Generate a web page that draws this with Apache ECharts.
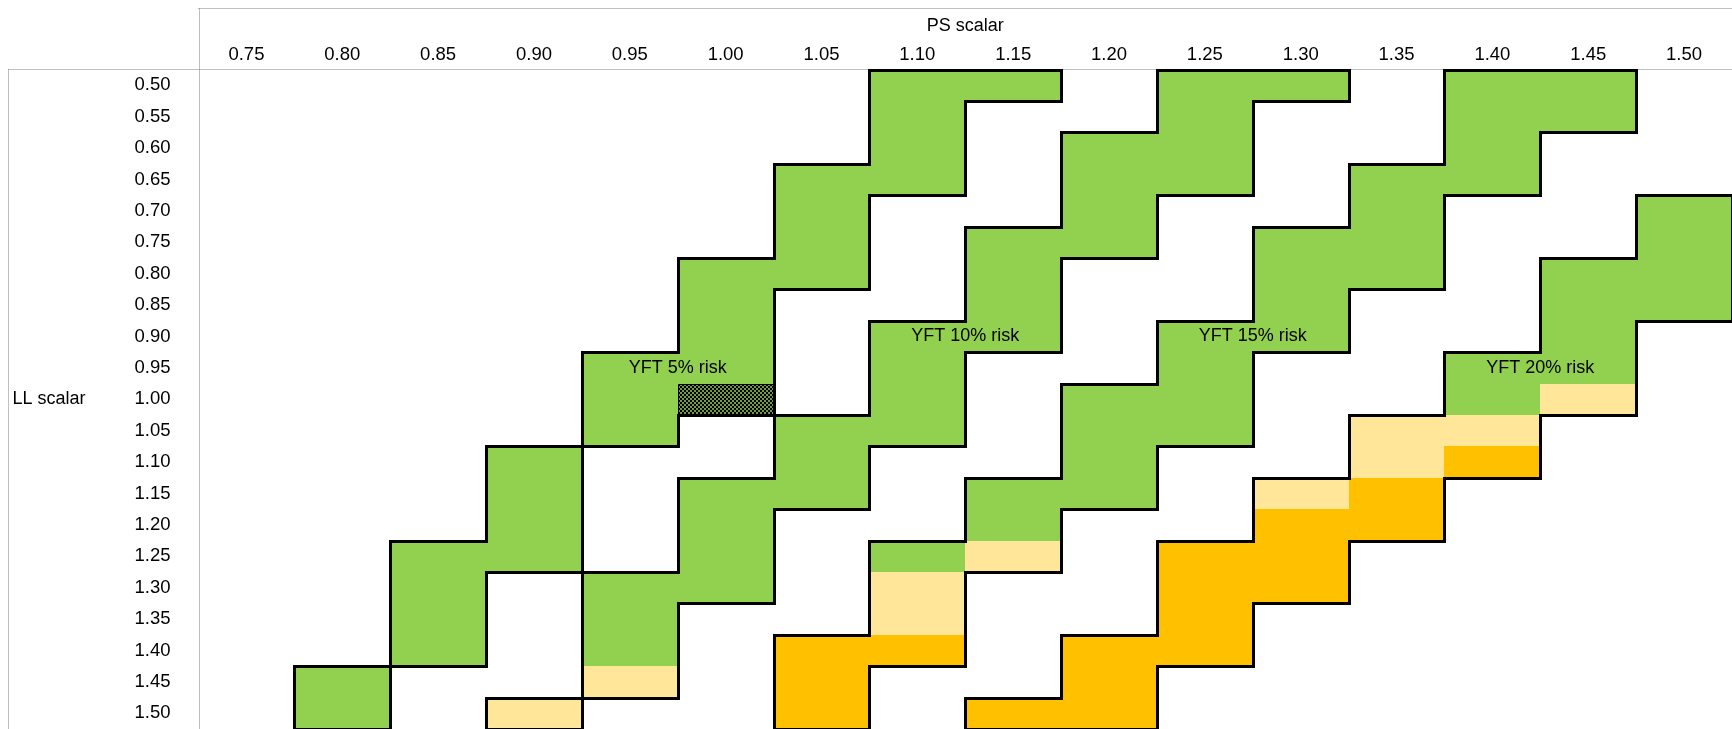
<!DOCTYPE html>
<html><head><meta charset="utf-8">
<script src="https://cdn.jsdelivr.net/npm/echarts@6/dist/echarts.min.js"></script>
<style>html,body{margin:0;padding:0;background:#fff}#c{width:1732px;height:729px}</style>
</head><body><div id="c"></div><script>
// ---- Data ----
const psScalar = ['0.75','0.80','0.85','0.90','0.95','1.00','1.05','1.10','1.15','1.20','1.25','1.30','1.35','1.40','1.45','1.50'];
const llScalar = ['0.50','0.55','0.60','0.65','0.70','0.75','0.80','0.85','0.90','0.95','1.00','1.05','1.10','1.15','1.20','1.25','1.30','1.35','1.40','1.45','1.50'];

// PS scalar range [from, to] covered by each risk band, one entry per LL scalar row
const risk5 = [['1.10','1.15'],['1.10','1.10'],['1.10','1.10'],['1.05','1.10'],['1.05','1.05'],['1.05','1.05'],['1.00','1.05'],['1.00','1.00'],['1.00','1.00'],['0.95','1.00'],['0.95','1.00'],['0.95','0.95'],['0.90','0.90'],['0.90','0.90'],['0.90','0.90'],['0.85','0.90'],['0.85','0.85'],['0.85','0.85'],['0.85','0.85'],['0.80','0.80'],['0.80','0.80']];
const risk10 = [['1.25','1.30'],['1.25','1.25'],['1.20','1.25'],['1.20','1.25'],['1.20','1.20'],['1.15','1.20'],['1.15','1.15'],['1.15','1.15'],['1.10','1.15'],['1.10','1.10'],['1.10','1.10'],['1.05','1.10'],['1.05','1.05'],['1.00','1.05'],['1.00','1.00'],['1.00','1.00'],['0.95','1.00'],['0.95','0.95'],['0.95','0.95'],['0.95','0.95'],['0.90','0.90']];
const risk15 = [['1.40','1.45'],['1.40','1.45'],['1.40','1.40'],['1.35','1.40'],['1.35','1.35'],['1.30','1.35'],['1.30','1.35'],['1.30','1.30'],['1.25','1.30'],['1.25','1.25'],['1.20','1.25'],['1.20','1.25'],['1.20','1.20'],['1.15','1.20'],['1.15','1.15'],['1.10','1.15'],['1.10','1.10'],['1.10','1.10'],['1.05','1.10'],['1.05','1.05'],['1.05','1.05']];
const risk20 = [null,null,null,null,['1.50','1.50'],['1.50','1.50'],['1.45','1.50'],['1.45','1.50'],['1.45','1.45'],['1.40','1.45'],['1.40','1.45'],['1.35','1.40'],['1.35','1.40'],['1.30','1.35'],['1.30','1.35'],['1.25','1.30'],['1.25','1.30'],['1.25','1.25'],['1.20','1.25'],['1.20','1.20'],['1.15','1.20']];

// cells [PS, LL] that are not green
const lightYellowCells = [['0.95','1.45'],['0.90','1.50'],['1.15','1.25'],['1.10','1.30'],['1.10','1.35'],['1.45','1.00'],['1.35','1.05'],['1.40','1.05'],['1.35','1.10'],['1.30','1.15']];
const orangeCells = [['1.05','1.40'],['1.10','1.40'],['1.05','1.45'],['1.05','1.50'],['1.40','1.10'],['1.35','1.15'],['1.30','1.20'],['1.35','1.20'],['1.25','1.25'],['1.30','1.25'],['1.25','1.30'],['1.30','1.30'],['1.25','1.35'],['1.20','1.40'],['1.25','1.40'],['1.20','1.45'],['1.15','1.50'],['1.20','1.50']];
const hatchedCells = [['1.00','1.00']];

// labels: [text, PS from, PS to, LL row]
const riskLabels = [['YFT 5% risk','0.95','1.00','0.95'],['YFT 10% risk','1.10','1.15','0.90'],['YFT 15% risk','1.25','1.30','0.90'],['YFT 20% risk','1.40','1.45','0.95']];

// ---- Build ----
const GREEN = '#92D050', LY = '#FFE699', ORANGE = '#FFC000';
const FONT = "'Liberation Sans', Arial, sans-serif";
const bands = [risk5, risk10, risk15, risk20];
const key = (b, c, r) => b + '_' + c + '_' + r;
const member = new Set();
const cellData = [];
const colorOf = {};
lightYellowCells.forEach(p => colorOf[psScalar.indexOf(p[0]) + '_' + llScalar.indexOf(p[1])] = 'ly');
orangeCells.forEach(p => colorOf[psScalar.indexOf(p[0]) + '_' + llScalar.indexOf(p[1])] = 'or');
hatchedCells.forEach(p => colorOf[psScalar.indexOf(p[0]) + '_' + llScalar.indexOf(p[1])] = 'ha');
bands.forEach((band, b) => {
  band.forEach((rng, r) => {
    if (!rng) return;
    const a = psScalar.indexOf(rng[0]), z = psScalar.indexOf(rng[1]);
    for (let c = a; c <= z; c++) {
      member.add(key(b, c, r));
      cellData.push([c, r, b]);
    }
  });
});
const labelData = riskLabels.map(l => [psScalar.indexOf(l[1]), llScalar.indexOf(l[3]), psScalar.indexOf(l[2])]);

// hatch pattern
const pc = document.createElement('canvas');
pc.width = 4; pc.height = 4;
const pctx = pc.getContext('2d');
pctx.fillStyle = '#000'; pctx.fillRect(0, 0, 4, 4);
pctx.fillStyle = '#6f9e3a'; pctx.fillRect(0, 0, 2, 2); pctx.fillRect(2, 2, 2, 2);

function rectOf(api) {
  const c = api.coord([api.value(0), api.value(1)]);
  const s = api.size([1, 1]);
  const x0 = Math.round(c[0] - s[0] / 2), x1 = Math.round(c[0] + s[0] / 2);
  const y0 = Math.round(c[1] - s[1] / 2), y1 = Math.round(c[1] + s[1] / 2);
  return { x0: x0, x1: x1, y0: y0, y1: y1 };
}

const chart = echarts.init(document.getElementById('c'), null, { renderer: 'canvas' });
chart.setOption({
  animation: false,
  backgroundColor: '#fff',
  grid: { left: 198.5, top: 69.5, width: 1536, height: 660.5, containLabel: false },
  xAxis: {
    type: 'category', data: psScalar, position: 'top',
    axisLine: { show: false }, axisTick: { show: false }, splitLine: { show: false },
    axisLabel: { color: '#000', fontSize: 18.5, fontFamily: FONT, margin: 14.5, verticalAlign: 'middle' },
    name: 'PS scalar', nameLocation: 'middle', nameGap: 43.5,
    nameTextStyle: { color: '#000', fontSize: 18, fontFamily: FONT, verticalAlign: 'middle' }
  },
  yAxis: {
    type: 'category', data: llScalar, inverse: true,
    axisLine: { show: false }, axisTick: { show: false }, splitLine: { show: false },
    axisLabel: { color: '#000', fontSize: 18.5, fontFamily: FONT, margin: 28, align: 'right' },
    name: 'LL scalar', nameLocation: 'middle', nameGap: 186, nameRotate: 0,
    nameTextStyle: { color: '#000', fontSize: 18, fontFamily: FONT, align: 'left', verticalAlign: 'middle' }
  },
  graphic: {
    elements: [
      { type: 'line', z: 0, shape: { x1: 198.5, y1: 8.5, x2: 1732, y2: 8.5 }, style: { stroke: '#808080', lineWidth: 1, lineDash: [1, 1] } },
      { type: 'line', z: 0, shape: { x1: 199.5, y1: 8.5, x2: 199.5, y2: 729 }, style: { stroke: '#808080', lineWidth: 1, lineDash: [1, 1] } },
      { type: 'line', z: 0, shape: { x1: 8.5, y1: 69.5, x2: 1732, y2: 69.5 }, style: { stroke: '#808080', lineWidth: 1, lineDash: [1, 1] } },
      { type: 'line', z: 0, shape: { x1: 8.5, y1: 69.5, x2: 8.5, y2: 729 }, style: { stroke: '#808080', lineWidth: 1, lineDash: [1, 1] } }
    ]
  },
  series: [
    {
      type: 'custom', z: 2, silent: true,
      encode: { x: 0, y: 1 },
      data: cellData,
      renderItem: function (params, api) {
        const r = rectOf(api);
        const k = api.value(0) + '_' + api.value(1);
        const t = colorOf[k];
        let style = { fill: GREEN };
        if (t === 'ly') style = { fill: LY };
        else if (t === 'or') style = { fill: ORANGE };
        else if (t === 'ha') style = { fill: { image: pc, repeat: 'repeat' }, stroke: '#000', lineWidth: 1 };
        const shape = t === 'ha'
          ? { x: r.x0 + 0.5, y: r.y0 + 0.5, width: r.x1 - r.x0 - 1, height: r.y1 - r.y0 - 1 }
          : { x: r.x0, y: r.y0, width: r.x1 - r.x0, height: r.y1 - r.y0 };
        return { type: 'rect', shape: shape, style: style };
      }
    },
    {
      type: 'custom', z: 3, silent: true,
      encode: { x: 0, y: 1 },
      data: cellData,
      renderItem: function (params, api) {
        const r = rectOf(api);
        const c = api.value(0), w = api.value(1), b = api.value(2);
        const x0 = r.x0 + 0.5, x1 = r.x1 + 0.5, y0 = r.y0 + 0.5, y1 = r.y1 + 0.5;
        const segs = [];
        if (!member.has(key(b, c, w - 1))) segs.push([x0, y0, x1, y0]);
        if (!member.has(key(b, c, w + 1))) segs.push([x0, y1, x1, y1]);
        if (!member.has(key(b, c - 1, w))) segs.push([x0, y0, x0, y1]);
        if (!member.has(key(b, c + 1, w))) segs.push([x1, y0, x1, y1]);
        return {
          type: 'group',
          children: segs.map(s => ({
            type: 'line', shape: { x1: s[0], y1: s[1], x2: s[2], y2: s[3] },
            style: { stroke: '#000', lineWidth: 3, lineCap: 'square' }
          }))
        };
      }
    },
    {
      type: 'custom', z: 4, silent: true,
      encode: { x: 0, y: 1 },
      data: labelData,
      renderItem: function (params, api) {
        const p1 = api.coord([api.value(0), api.value(1)]);
        const p2 = api.coord([api.value(2), api.value(1)]);
        return {
          type: 'text',
          style: {
            x: (p1[0] + p2[0]) / 2, y: p1[1], text: riskLabels[params.dataIndex][0],
            fill: '#000', font: '18px ' + FONT, align: 'center', verticalAlign: 'middle'
          }
        };
      }
    }
  ]
});
</script></body></html>
